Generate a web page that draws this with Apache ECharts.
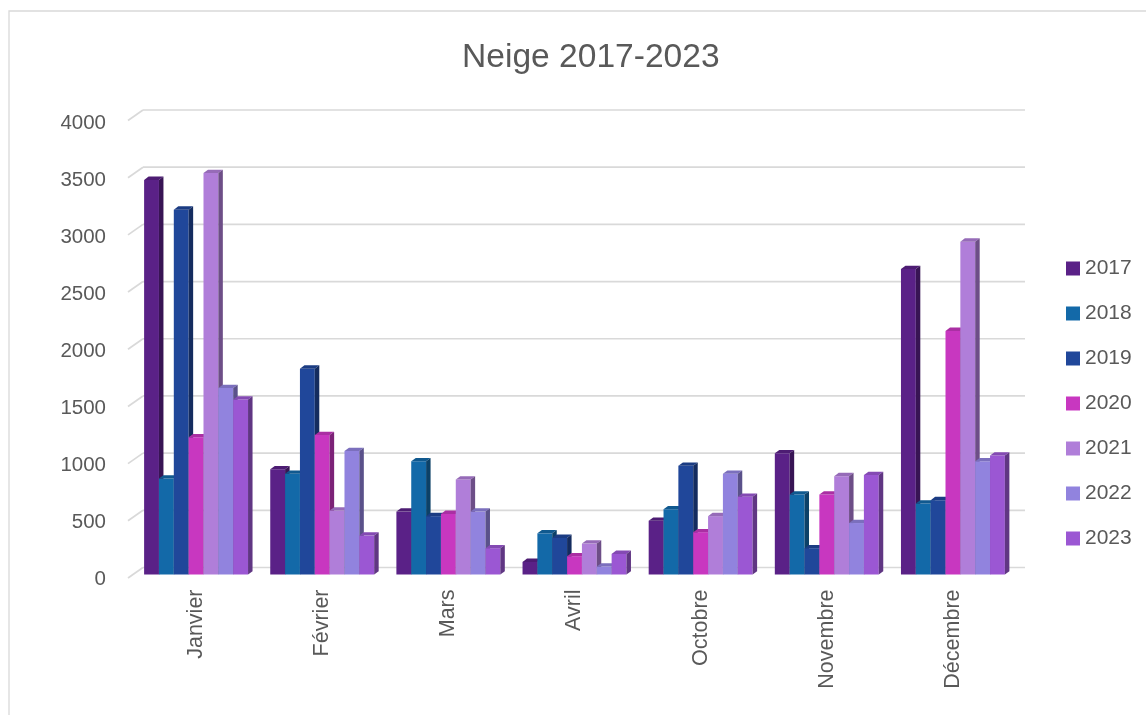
<!DOCTYPE html>
<html>
<head>
<meta charset="utf-8">
<script src="https://cdn.jsdelivr.net/npm/echarts@6/dist/echarts.min.js"></script>
<style>
html,body{margin:0;padding:0;background:#fff;}
#chart{width:1146px;height:715px;}
</style>
</head>
<body>
<div id="chart"></div>
<script>
const categories = ['Janvier', 'Février', 'Mars', 'Avril', 'Octobre', 'Novembre', 'Décembre'];
const years = ['2017', '2018', '2019', '2020', '2021', '2022', '2023'];
const v2017 = [3450, 920, 550, 110, 470, 1060, 2670];
const v2018 = [840, 880, 990, 360, 570, 700, 620];
const v2019 = [3190, 1800, 510, 320, 950, 230, 650];
const v2020 = [1200, 1220, 530, 160, 370, 700, 2130];
const v2021 = [3510, 560, 830, 270, 510, 860, 2910];
const v2022 = [1630, 1080, 550, 70, 880, 450, 990];
const v2023 = [1530, 340, 230, 180, 680, 870, 1040];
const yTicks = [0, 500, 1000, 1500, 2000, 2500, 3000, 3500, 4000];
const colors = ['#5a2187', '#1369a8', '#20479a', '#c837c0', '#b07ed9', '#9183de', '#9b57d3'];

const seriesValues = [v2017, v2018, v2019, v2020, v2021, v2022, v2023];

const DX = 4.5, DY = 3.3;       // bar depth offsets
const BX = 10, BY = 7;          // back wall offset
const FX = 5, FY = 3.5;         // front plane offset

function shade(hex, f) {
  const n = parseInt(hex.slice(1), 16);
  let r = (n >> 16) & 255, g = (n >> 8) & 255, b = n & 255;
  r = Math.round(r * f); g = Math.round(g * f); b = Math.round(b * f);
  return 'rgb(' + r + ',' + g + ',' + b + ')';
}

function barRenderer(idx) {
  const c = colors[idx];
  return function (params, api) {
    const cat = api.value(0);
    const val = api.value(1);
    const top = api.coord([cat, val]);
    const base = api.coord([cat, 0]);
    const band = api.size([1, 0])[0];
    const w = band * 0.1177;
    const x0 = top[0] - 3.5 * w + idx * w;
    const yt = top[1], yb = base[1];
    return {
      type: 'group',
      children: [
        { type: 'rect', shape: { x: x0, y: yt, width: w, height: yb - yt }, style: { fill: c } },
        { type: 'polygon', shape: { points: [[x0, yt], [x0 + w, yt], [x0 + w + DX, yt - DY], [x0 + DX, yt - DY]] }, style: { fill: shade(c, 0.85) } },
        { type: 'polygon', shape: { points: [[x0 + w, yt], [x0 + w + DX, yt - DY], [x0 + w + DX, yb - DY], [x0 + w, yb]] }, style: { fill: shade(c, 0.62) } }
      ]
    };
  };
}

function gridRenderer(params, api) {
  const cs = params.coordSys;
  const y = api.coord([0, api.value(1)])[1];
  return {
    type: 'group',
    children: [
      { type: 'line', shape: { x1: cs.x + BX, y1: y - BY, x2: cs.x + cs.width + BX - 1, y2: y - BY }, style: { stroke: '#d9d9d9', lineWidth: 1.7 } },
      { type: 'line', shape: { x1: cs.x - FX, y1: y + FY, x2: cs.x + BX, y2: y - BY }, style: { stroke: '#d9d9d9', lineWidth: 1.7 } }
    ]
  };
}

const series = [{
  type: 'custom',
  name: 'grid',
  renderItem: gridRenderer,
  data: yTicks.map(v => [0, v]),
  silent: true,
  legendHoverLink: false
}];
years.forEach((y, i) => {
  series.push({
    type: 'custom',
    name: y,
    renderItem: barRenderer(i),
    itemStyle: { color: colors[i] },
    data: seriesValues[i].map((v, j) => [j, v])
  });
});

const chart = echarts.init(document.getElementById('chart'));
chart.setOption({
  animation: false,
  color: colors,
  textStyle: { fontFamily: 'Liberation Sans' },
  title: {
    text: 'Neige 2017-2023',
    left: 457,
    top: 36,
    textStyle: { fontSize: 33.6, fontWeight: 'normal', color: '#595959', fontFamily: 'Liberation Sans' }
  },
  graphic: [{
    type: 'rect',
    shape: { x: 9, y: 11, width: 1300, height: 900 },
    style: { fill: 'none', stroke: '#d9d9d9', lineWidth: 1.3 },
    silent: true
  }],
  legend: {
    data: years,
    orient: 'vertical',
    left: 1061,
    top: 253,
    itemWidth: 14,
    itemHeight: 14,
    itemGap: 24,
    icon: 'rect',
    textStyle: { fontSize: 21, color: '#595959', fontFamily: 'Liberation Sans' }
  },
  grid: [
    { left: 133, right: 130, top: 117, bottom: 140.5 },
    { left: 133, right: 130, top: 123, bottom: 135.5 }
  ],
  xAxis: [{
    type: 'category',
    data: categories,
    gridIndex: 0,
    axisLine: { show: false },
    axisTick: { show: false },
    axisLabel: { rotate: 90, fontSize: 21.5, color: '#595959', margin: 15, fontFamily: 'Liberation Sans' }
  }, {
    type: 'category',
    data: categories,
    gridIndex: 1,
    show: false
  }],
  yAxis: [{
    type: 'value',
    gridIndex: 0,
    min: 0,
    max: 4000,
    interval: 500,
    splitLine: { show: false },
    axisLine: { show: false },
    axisTick: { show: false },
    axisLabel: { show: false }
  }, {
    type: 'value',
    gridIndex: 1,
    min: 0,
    max: 4000,
    interval: 500,
    splitLine: { show: false },
    axisLine: { show: false },
    axisTick: { show: false },
    axisLabel: { fontSize: 20.5, color: '#595959', margin: 27, fontFamily: 'Liberation Sans', formatter: v => String(v) }
  }],
  series: series
});
</script>
</body>
</html>
